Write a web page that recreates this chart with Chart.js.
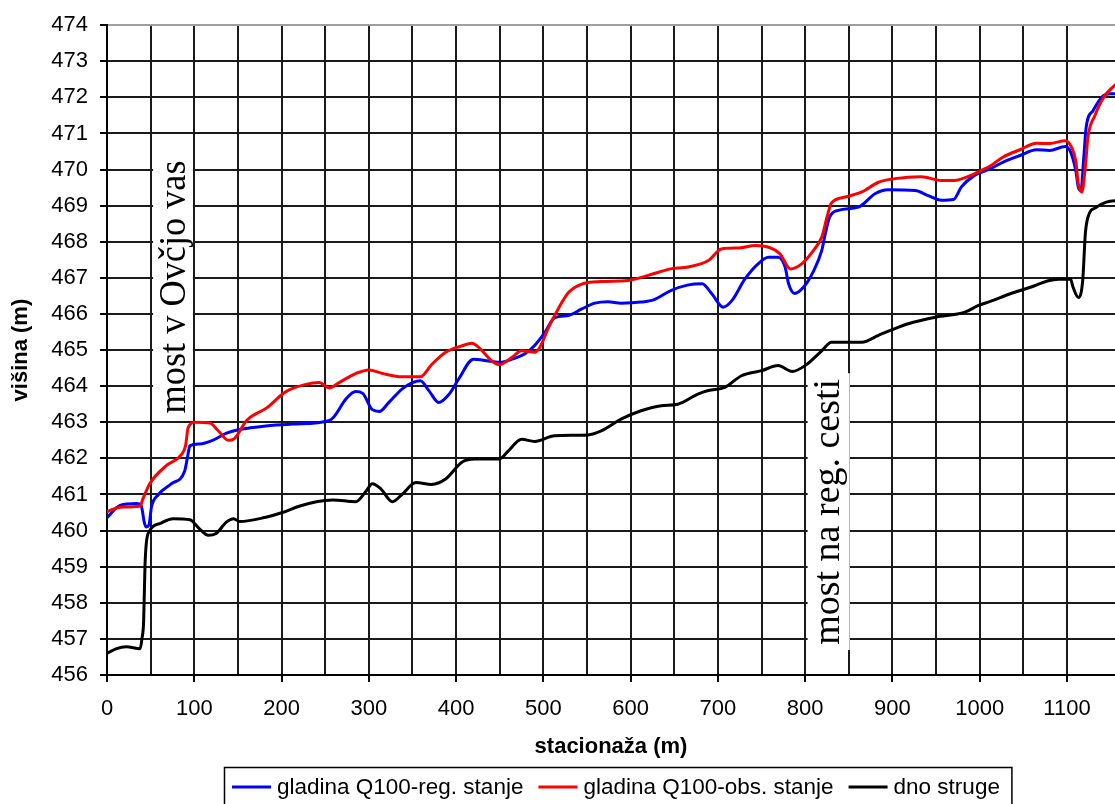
<!DOCTYPE html>
<html>
<head>
<meta charset="utf-8">
<script src="https://cdn.jsdelivr.net/npm/chart.js@4.4.1/dist/chart.umd.min.js"></script>
<style>
  html, body { margin: 0; padding: 0; background: #fff; overflow: hidden; }
  /* the reference is cut off at the right edge of the plot, so the canvas is a bit wider than the frame */
  #wrap { width: 1115px; height: 804px; overflow: hidden; }
</style>
</head>
<body>
<div id="wrap"><canvas id="profil" width="1129" height="804"></canvas></div>
<script>
// stacionaža (m) / višina (m)
const stacReg = [0, 15, 34, 39, 43, 45, 48, 51, 59, 74, 89, 92, 95, 106, 121, 137, 152, 182, 213, 255, 260, 274, 285, 293, 304, 312, 323, 338, 350, 359, 369, 380, 392, 403, 420, 437, 451, 464, 479, 490, 502, 513, 529, 544, 559, 574, 589, 612, 627, 646, 665, 682, 693, 706, 716, 731, 746, 758, 769, 777, 781, 788, 798, 809, 819, 823, 828, 838, 861, 880, 895, 926, 941, 956, 970, 979, 994, 1012, 1027, 1046, 1065, 1080, 1098, 1104, 1110, 1113, 1116, 1119, 1122, 1130, 1140, 1149, 1160];
const gladinaReg = [460.36, 460.7, 460.75, 460.7, 460.2, 460.1, 460.15, 460.66, 461.0, 461.3, 461.65, 462.0, 462.35, 462.4, 462.5, 462.7, 462.8, 462.9, 462.95, 463.05, 463.15, 463.65, 463.85, 463.8, 463.35, 463.3, 463.55, 463.92, 464.1, 464.15, 463.87, 463.55, 463.78, 464.2, 464.75, 464.7, 464.66, 464.75, 464.9, 465.13, 465.5, 465.9, 465.96, 466.14, 466.3, 466.34, 466.3, 466.33, 466.4, 466.65, 466.8, 466.84, 466.56, 466.19, 466.37, 466.97, 467.39, 467.57, 467.57, 467.3, 466.84, 466.57, 466.74, 467.16, 467.76, 468.22, 468.68, 468.87, 468.96, 469.33, 469.44, 469.42, 469.28, 469.15, 469.17, 469.52, 469.84, 470.02, 470.21, 470.39, 470.55, 470.53, 470.64, 470.49, 469.98, 469.51, 469.42, 470.26, 471.18, 471.64, 472.01, 472.1, 472.1];

const stacObs = [0, 15, 38, 41, 49, 68, 85, 90, 93, 101, 118, 127, 139, 146, 160, 183, 205, 228, 243, 255, 266, 285, 300, 316, 338, 359, 372, 388, 407, 418, 428, 441, 450, 464, 475, 490, 496, 506, 517, 529, 544, 566, 597, 620, 646, 666, 689, 704, 724, 743, 758, 771, 783, 796, 811, 819, 825, 830, 846, 865, 884, 903, 933, 956, 971, 987, 1002, 1012, 1027, 1046, 1065, 1080, 1098, 1105, 1110, 1113, 1117, 1121, 1124, 1132, 1142, 1160];
const gladinaObs = [460.52, 460.65, 460.68, 460.87, 461.3, 461.8, 462.1, 462.35, 462.85, 463.0, 462.98, 462.78, 462.5, 462.55, 463.05, 463.4, 463.85, 464.05, 464.1, 463.95, 464.1, 464.35, 464.45, 464.35, 464.26, 464.26, 464.6, 464.94, 465.12, 465.19, 465.03, 464.7, 464.6, 464.8, 464.98, 464.94, 465.08, 465.63, 466.14, 466.6, 466.83, 466.9, 466.93, 467.07, 467.25, 467.3, 467.48, 467.8, 467.83, 467.9, 467.85, 467.67, 467.25, 467.39, 467.81, 468.13, 468.68, 469.07, 469.24, 469.38, 469.65, 469.75, 469.8, 469.7, 469.7, 469.81, 469.98, 470.1, 470.35, 470.55, 470.73, 470.72, 470.8, 470.63, 470.25, 469.6, 469.38, 470.07, 470.9, 471.5, 472.0, 472.45];

const stacDno = [0, 11, 22, 38, 40, 42, 43.5, 45, 49, 61, 76, 95, 106, 116, 125, 137, 145, 152, 182, 201, 221, 240, 259, 285, 297, 304, 314, 327, 338, 354, 372, 388, 407, 422, 449, 460, 475, 490, 513, 551, 567, 589, 612, 635, 654, 677, 689, 708, 727, 750, 769, 785, 800, 819, 830, 865, 884, 899, 918, 949, 983, 998, 1012, 1035, 1058, 1080, 1104, 1107, 1113, 1118, 1121, 1124, 1134, 1145, 1160];
const dnoStruge = [456.6, 456.73, 456.78, 456.73, 457.0, 457.5, 459.0, 459.64, 460.0, 460.2, 460.33, 460.3, 460.05, 459.87, 459.92, 460.24, 460.33, 460.25, 460.37, 460.5, 460.68, 460.8, 460.85, 460.8, 461.1, 461.3, 461.15, 460.8, 461.0, 461.33, 461.28, 461.43, 461.9, 461.98, 461.98, 462.21, 462.53, 462.47, 462.63, 462.65, 462.77, 463.09, 463.32, 463.46, 463.5, 463.78, 463.88, 463.97, 464.29, 464.43, 464.57, 464.41, 464.57, 464.98, 465.22, 465.22, 465.41, 465.56, 465.73, 465.91, 466.05, 466.23, 466.35, 466.56, 466.74, 466.93, 466.97, 466.74, 466.46, 466.93, 468.22, 468.68, 468.96, 469.1, 469.15];

const seriesLabels = ['gladina Q100-reg. stanje', 'gladina Q100-obs. stanje', 'dno struge'];
const bridgeNames = ['most v Ovčjo vas', 'most na reg. cesti'];

const toPoints = (xs, ys) => xs.map((s, i) => ({ x: s, y: ys[i] }));
const FONT = '"Liberation Sans", Arial, sans-serif';

// white text boxes with the bridge names + the boxed legend under the axis title
const profilPlugin = {
    id: 'profil',
    afterDatasetsDraw(chart) {
        const { ctx, scales: { x, y } } = chart;
        const notes = [
            { text: bridgeNames[0], x0: 52.8, x1: 98.4, y0: 470.7, y1: 463.1, base: 89.5, mid: 466.75, sx: 0.955 },
            { text: bridgeNames[1], x0: 802.8, x1: 851, y0: 464.36, y1: 456.69, base: 839, mid: 460.52, sx: 1 }
        ];
        ctx.save();
        notes.forEach(n => {
            const left = x.getPixelForValue(n.x0), right = x.getPixelForValue(n.x1);
            const top = y.getPixelForValue(n.y0), bottom = y.getPixelForValue(n.y1);
            ctx.fillStyle = '#fff';
            ctx.fillRect(left, top, right - left, bottom - top);
            ctx.save();
            ctx.translate(x.getPixelForValue(n.base), y.getPixelForValue(n.mid));
            ctx.rotate(-Math.PI / 2);
            ctx.scale(n.sx, 1);
            ctx.font = '38px "Liberation Serif", "Times New Roman", serif';
            ctx.fillStyle = '#000';
            ctx.textAlign = 'center';
            ctx.textBaseline = 'alphabetic';
            ctx.fillText(n.text, 0, 0);
            ctx.restore();
        });
        ctx.restore();
    },
    afterDraw(chart) {
        const { ctx } = chart;
        const yMid = 787;
        let xPos = 232;
        ctx.save();
        ctx.font = '22.5px ' + FONT;
        ctx.textBaseline = 'middle';
        ctx.textAlign = 'left';
        chart.data.datasets.forEach(ds => {
            ctx.strokeStyle = ds.borderColor;
            ctx.lineWidth = 3;
            ctx.beginPath();
            ctx.moveTo(xPos, yMid);
            ctx.lineTo(xPos + 39, yMid);
            ctx.stroke();
            xPos += 45;
            ctx.fillStyle = '#000';
            ctx.fillText(ds.label, xPos, yMid + 1);
            xPos += ctx.measureText(ds.label).width + 15;
        });
        const boxRight = xPos - 3;
        ctx.strokeStyle = '#000';
        ctx.lineWidth = 1.5;
        ctx.strokeRect(224.5, 767.5, boxRight - 224.5, 42);
        ctx.restore();
    }
};

new Chart(document.getElementById('profil'), {
    type: 'line',
    data: {
        datasets: [
            { label: seriesLabels[0], data: toPoints(stacReg, gladinaReg), borderColor: '#0000ff' },
            { label: seriesLabels[1], data: toPoints(stacObs, gladinaObs), borderColor: '#ff0000' },
            { label: seriesLabels[2], data: toPoints(stacDno, dnoStruge), borderColor: '#000000' }
        ].map((ds, i) => ({
            ...ds,
            borderWidth: 3,
            pointRadius: 0,
            fill: false,
            cubicInterpolationMode: 'monotone',
            order: 2 - i
        }))
    },
    options: {
        responsive: false,
        animation: false,
        devicePixelRatio: 1,
        layout: { padding: { top: 25, bottom: 44, left: 0, right: 0 } },
        plugins: {
            legend: { display: false },
            tooltip: { enabled: false }
        },
        scales: {
            x: {
                type: 'linear',
                min: 0,
                max: 1155,
                afterFit: s => { s.height = 85; },
                border: { display: true, color: '#000', width: 2 },
                grid: {
                    lineWidth: 2,
                    color: c => (c.tick && c.tick.value % 50 === 0) ? '#1a1a1a' : 'rgba(0,0,0,0)',
                    tickColor: c => (c.tick && c.tick.value % 100 === 0) ? '#000' : 'rgba(0,0,0,0)',
                    tickLength: 7
                },
                ticks: {
                    stepSize: 50,
                    maxTicksLimit: 100,
                    autoSkip: false,
                    maxRotation: 0,
                    padding: 14,
                    color: '#000',
                    font: { family: FONT, size: 22 },
                    callback: v => (v % 100 === 0 ? String(v) : '')
                },
                title: {
                    display: true,
                    text: 'stacionaža (m)',
                    color: '#000',
                    font: { family: FONT, size: 22, weight: 'bold' },
                    padding: { top: 0, bottom: 0 }
                }
            },
            y: {
                min: 456,
                max: 474,
                afterFit: s => { s.width = 107; },
                border: { display: true, color: '#000', width: 2 },
                grid: {
                    lineWidth: 2,
                    color: c => (c.tick && c.tick.value === 474) ? '#a0a0a0' : '#1a1a1a',
                    tickColor: '#000',
                    tickLength: 7
                },
                ticks: {
                    stepSize: 1,
                    padding: 12,
                    color: '#000',
                    font: { family: FONT, size: 22 }
                },
                title: {
                    display: true,
                    text: 'višina (m)',
                    color: '#000',
                    font: { family: FONT, size: 22, weight: 'bold' },
                    padding: { top: 8, bottom: 0 }
                }
            }
        }
    },
    plugins: [profilPlugin]
});
</script>
</body>
</html>
